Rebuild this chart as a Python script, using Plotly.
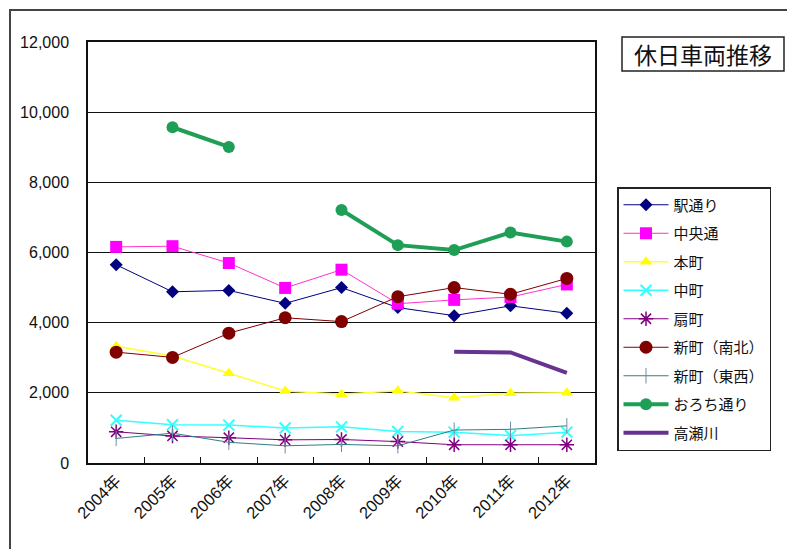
import plotly.graph_objects as go

years = ["2004年", "2005年", "2006年", "2007年", "2008年", "2009年", "2010年", "2011年", "2012年"]

eki_dori = [5650, 4880, 4920, 4550, 5000, 4430, 4200, 4480, 4270]
chuo_dori = [6160, 6180, 5700, 4990, 5510, 4540, 4650, 4730, 5090]
honmachi = [3330, 3050, 2560, 2050, 1960, 2060, 1860, 1990, 2000]
nakamachi = [1220, 1090, 1080, 1000, 1030, 900, 880, 780, 880]
ogimachi = [890, 770, 720, 660, 670, 610, 520, 520, 520]
shinmachi_ns = [3160, 3010, 3700, 4140, 4030, 4740, 5000, 4810, 5260]
shinmachi_ew = [700, 850, 590, 490, 530, 490, 940, 960, 1060]
orochi_dori = [None, 9570, 9010, None, 7210, 6210, 6070, 6570, 6310]
takasegawa = [None, None, None, None, None, None, 3170, 3150, 2570]

series = [
    ("駅通り", eki_dori, dict(color="#000080", width=1), dict(symbol="diamond", size=10, color="#000080")),
    ("中央通", chuo_dori, dict(color="#ff33cc", width=1), dict(symbol="square", size=12, color="#ff00ff")),
    ("本町", honmachi, dict(color="#ffff33", width=1.5), dict(symbol="triangle-up", size=11, color="#ffff00")),
    ("中町", nakamachi, dict(color="#33ffff", width=1.5), dict(symbol="x-thin-open", size=11, color="#33ffff", line=dict(width=2, color="#33ffff"))),
    ("扇町", ogimachi, dict(color="#800080", width=1), dict(symbol="asterisk-open", size=12, color="#800080", line=dict(width=1.5, color="#800080"))),
    ("新町（南北）", shinmachi_ns, dict(color="#800000", width=1), dict(symbol="circle", size=13, color="#800000")),
    ("新町（東西）", shinmachi_ew, dict(color="#2e7f7f", width=1), dict(symbol="line-ns-open", size=11, color="#6f8fa0", line=dict(width=1, color="#6f8fa0"))),
    ("おろち通り", orochi_dori, dict(color="#1f9f55", width=4), dict(symbol="circle", size=12, color="#1f9f55")),
    ("高瀬川", takasegawa, dict(color="#67338f", width=4), None),
]

fig = go.Figure()
for i, (name, vals, line, marker) in enumerate(series):
    kw = dict(x=years, y=vals, name=name, line=line, legendgroup=f"g{i}", connectgaps=False)
    if marker is None:
        kw["mode"] = "lines"
    else:
        kw["mode"] = "lines+markers"
        kw["marker"] = marker
    fig.add_trace(go.Scatter(**kw))

# page body has an 8px margin; target pixel geometry: plot area x 88..595, y 42..463
OFF = 8
W, H = 795 - OFF, 549 - OFF
L, T = 88 - OFF, 42 - OFF
R = W - (595 - OFF)
B = H - (463 - OFF)
pw, ph = W - L - R, H - T - B

def px(x):
    return (x - OFF - L) / pw

def py(y):
    return (T + ph - (y - OFF)) / ph

fig.update_layout(
    width=W, height=H,
    margin=dict(l=L, r=R, t=T, b=B),
    paper_bgcolor="white", plot_bgcolor="white",
    font=dict(family="Noto Sans CJK JP, Liberation Sans, sans-serif", color="#111", size=16),
    showlegend=True,
    legend=dict(
        x=px(617), y=py(187), xanchor="left", yanchor="top",
        bordercolor="#222", borderwidth=1.5, bgcolor="white",
        font=dict(size=15, family="Noto Sans CJK JP, sans-serif", color="#111"),
        traceorder="grouped", tracegroupgap=6, itemwidth=45,
    ),
    xaxis=dict(
        type="category", showgrid=False, showline=True, linecolor="#111", linewidth=1.5,
        mirror=True, ticks="inside", ticklen=6, tickcolor="#111", tickson="boundaries",
        tickangle=-45, tickfont=dict(size=16.5, family="Liberation Sans, Noto Sans CJK JP, sans-serif", color="#111"),
        range=[-0.5, 8.5],
    ),
    yaxis=dict(
        range=[0, 12000], dtick=2000, tickformat=",", showgrid=True, gridcolor="#111", gridwidth=1,
        showline=True, linecolor="#111", linewidth=1.5, mirror=True, ticks="",
        ticklabelstandoff=14, zeroline=False,
        tickfont=dict(size=16, family="Liberation Sans, sans-serif", color="#111"),
    ),
    shapes=[
        dict(type="rect", xref="paper", yref="paper", x0=px(10), x1=px(820), y0=py(570), y1=py(10),
             line=dict(color="#444", width=2), fillcolor="rgba(0,0,0,0)", layer="below"),
        dict(type="rect", xref="paper", yref="paper", x0=px(622), x1=px(784), y0=py(71), y1=py(37),
             line=dict(color="#222", width=1.5), fillcolor="white"),
    ],
    annotations=[
        dict(text="休日車両推移", xref="paper", yref="paper", x=px(703), y=py(54),
             xanchor="center", yanchor="middle", showarrow=False,
             font=dict(size=23, family="Noto Sans CJK JP, sans-serif", color="#111")),
    ],
)

fig.write_html("out.html")
